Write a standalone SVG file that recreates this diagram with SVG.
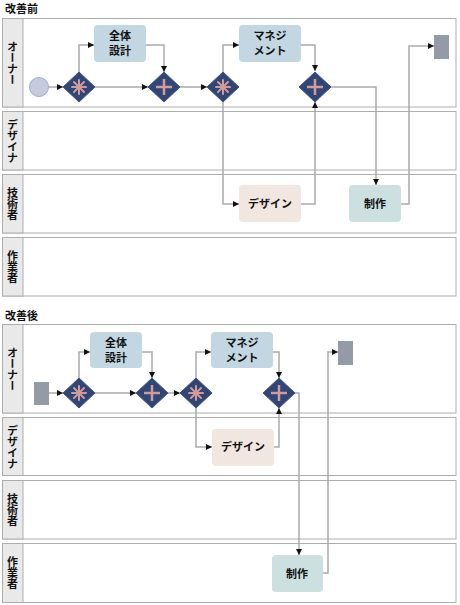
<svg xmlns="http://www.w3.org/2000/svg" width="460" height="605" viewBox="0 0 460 605">
<defs>
<marker id="ah" viewBox="0 0 10 10" refX="10" refY="5" markerWidth="6" markerHeight="6" markerUnits="userSpaceOnUse" orient="auto"><path d="M0,0 L10,5 L0,10 z" fill="#111"/></marker>
<g id="dia"><path d="M-16,0 L0,-15 L16,0 L0,15 z" fill="#2f4677" stroke="#3d5485" stroke-width="1"/></g>
<g id="ast"><use href="#dia"/><g stroke="#d49a98" stroke-width="2" stroke-linecap="round"><line x1="0" y1="-7" x2="0" y2="7"/><line x1="-7" y1="0" x2="7" y2="0"/><line x1="-5" y1="-5" x2="5" y2="5"/><line x1="-5" y1="5" x2="5" y2="-5"/></g></g>
<g id="pls"><use href="#dia"/><g stroke="#d49a98" stroke-width="2.5"><line x1="0" y1="-8" x2="0" y2="8"/><line x1="-8" y1="0" x2="8" y2="0"/></g></g>
</defs>
<style>
.lane{fill:#fff;stroke:#adadad;stroke-width:1}
.hdr{fill:#e9e9e9;stroke:#adadad;stroke-width:1}
.lbl{font-family:"Noto Sans CJK JP","Liberation Sans",sans-serif;font-size:11px;font-weight:bold;fill:#111;writing-mode:vertical-rl;text-anchor:middle}
.ttl{font-family:"Noto Sans CJK JP","Liberation Sans",sans-serif;font-size:11px;font-weight:bold;fill:#111}
.t{font-family:"Noto Sans CJK JP","Liberation Sans",sans-serif;font-size:11px;font-weight:bold;fill:#111;text-anchor:middle}
.c{fill:none;stroke:#aaa;stroke-width:1.5}
.blue{fill:#c3d7e2}
.pink{fill:#f1e6e0}
.teal{fill:#cde0e0}
.end{fill:#959aa7}
</style>
<rect width="460" height="605" fill="#fff"/>
<g id="before">
<text class="ttl" x="5" y="13">改善前</text>
<g id="lane-owner-1"><rect class="lane" x="2.5" y="18.5" width="453.5" height="88.5"/><rect class="hdr" x="2.5" y="18.5" width="20.5" height="88.5"/><text class="lbl" x="12.5" y="63">オーナー</text></g>
<g id="lane-designer-1"><rect class="lane" x="2.5" y="111.5" width="453.5" height="58.5"/><rect class="hdr" x="2.5" y="111.5" width="20.5" height="58.5"/><text class="lbl" x="12.5" y="141">デザイナ</text></g>
<g id="lane-engineer-1"><rect class="lane" x="2.5" y="174.5" width="453.5" height="58.5"/><rect class="hdr" x="2.5" y="174.5" width="20.5" height="58.5"/><text class="lbl" x="12.5" y="204">技術者</text></g>
<g id="lane-worker-1"><rect class="lane" x="2.5" y="237.5" width="453.5" height="58.5"/><rect class="hdr" x="2.5" y="237.5" width="20.5" height="58.5"/><text class="lbl" x="12.5" y="267">作業者</text></g>
<g id="edges-1">
<path class="c" d="M49,87 H63" marker-end="url(#ah)"/>
<path class="c" d="M79,72 V45 H94" marker-end="url(#ah)"/>
<path class="c" d="M146,45 H164 V72" marker-end="url(#ah)"/>
<path class="c" d="M95,87 H148" marker-end="url(#ah)"/>
<path class="c" d="M180,87 H207" marker-end="url(#ah)"/>
<path class="c" d="M223,72 V45 H239" marker-end="url(#ah)"/>
<path class="c" d="M301,45 H315 V71" marker-end="url(#ah)"/>
<path class="c" d="M223,102 V204 H239" marker-end="url(#ah)"/>
<path class="c" d="M301,204 H315 V102" marker-end="url(#ah)"/>
<path class="c" d="M331,87 H376 V185" marker-end="url(#ah)"/>
<path class="c" d="M401,204 H409 V46 H434" marker-end="url(#ah)"/>
</g>
<g id="start-1"><circle cx="39" cy="87" r="9.5" fill="#c5cbdd" stroke="#9ca9cc" stroke-width="1"/></g>
<g id="gw1-1"><use href="#ast" x="79" y="87"/></g>
<g id="task-zentai-1"><rect class="blue" x="94" y="25" width="52" height="37" rx="4"/><text class="t" x="120" y="40">全体</text><text class="t" x="120" y="55">設計</text></g>
<g id="gw2-1"><use href="#pls" x="164" y="87"/></g>
<g id="gw3-1"><use href="#ast" x="223" y="87"/></g>
<g id="task-mgmt-1"><rect class="blue" x="239" y="25" width="62" height="37" rx="4"/><text class="t" x="270" y="40">マネジ</text><text class="t" x="270" y="55">メント</text></g>
<g id="gw4-1"><use href="#pls" x="315" y="87"/></g>
<g id="task-design-1"><rect class="pink" x="239" y="185" width="62" height="37" rx="4"/><text class="t" x="270" y="208">デザイン</text></g>
<g id="task-make-1"><rect class="teal" x="349" y="185" width="52" height="37" rx="4"/><text class="t" x="375" y="208">制作</text></g>
<g id="end-1"><rect class="end" x="434" y="35" width="15" height="24"/></g>
</g>
<g id="after">
<text class="ttl" x="5" y="320">改善後</text>
<g id="lane-owner-2"><rect class="lane" x="2.5" y="324.5" width="453.5" height="88.5"/><rect class="hdr" x="2.5" y="324.5" width="20.5" height="88.5"/><text class="lbl" x="12.5" y="369">オーナー</text></g>
<g id="lane-designer-2"><rect class="lane" x="2.5" y="417.5" width="453.5" height="58"/><rect class="hdr" x="2.5" y="417.5" width="20.5" height="58"/><text class="lbl" x="12.5" y="447">デザイナ</text></g>
<g id="lane-engineer-2"><rect class="lane" x="2.5" y="480.5" width="453.5" height="58.5"/><rect class="hdr" x="2.5" y="480.5" width="20.5" height="58.5"/><text class="lbl" x="12.5" y="510">技術者</text></g>
<g id="lane-worker-2"><rect class="lane" x="2.5" y="543.5" width="453.5" height="59"/><rect class="hdr" x="2.5" y="543.5" width="20.5" height="59"/><text class="lbl" x="12.5" y="573">作業者</text></g>
<g id="edges-2">
<path class="c" d="M49,393 H63" marker-end="url(#ah)"/>
<path class="c" d="M79,378 V352 H90" marker-end="url(#ah)"/>
<path class="c" d="M142,352 H152 V378" marker-end="url(#ah)"/>
<path class="c" d="M95,393 H136" marker-end="url(#ah)"/>
<path class="c" d="M168,393 H180" marker-end="url(#ah)"/>
<path class="c" d="M196,378 V352 H211" marker-end="url(#ah)"/>
<path class="c" d="M273,352 H279 V378" marker-end="url(#ah)"/>
<path class="c" d="M196,408 V447 H212" marker-end="url(#ah)"/>
<path class="c" d="M274,447 H279 V408" marker-end="url(#ah)"/>
<path class="c" d="M295,393 H299 V555" marker-end="url(#ah)"/>
<path class="c" d="M323,573 H328 V352 H338" marker-end="url(#ah)"/>
</g>
<g id="start-2"><rect class="end" x="34" y="382" width="15" height="23"/></g>
<g id="gw1-2"><use href="#ast" x="79" y="393"/></g>
<g id="task-zentai-2"><rect class="blue" x="90" y="332" width="52" height="36" rx="4"/><text class="t" x="116" y="347">全体</text><text class="t" x="116" y="362">設計</text></g>
<g id="gw2-2"><use href="#pls" x="152" y="393"/></g>
<g id="gw3-2"><use href="#ast" x="196" y="393"/></g>
<g id="task-mgmt-2"><rect class="blue" x="211" y="332" width="62" height="36" rx="4"/><text class="t" x="242" y="347">マネジ</text><text class="t" x="242" y="362">メント</text></g>
<g id="gw4-2"><use href="#pls" x="279" y="393"/></g>
<g id="task-design-2"><rect class="pink" x="212" y="429" width="62" height="37" rx="4"/><text class="t" x="243" y="451">デザイン</text></g>
<g id="task-make-2"><rect class="teal" x="272" y="555" width="51" height="37" rx="4"/><text class="t" x="297" y="578">制作</text></g>
<g id="end-2"><rect class="end" x="338" y="341" width="15" height="24"/></g>
</g>
</svg>
